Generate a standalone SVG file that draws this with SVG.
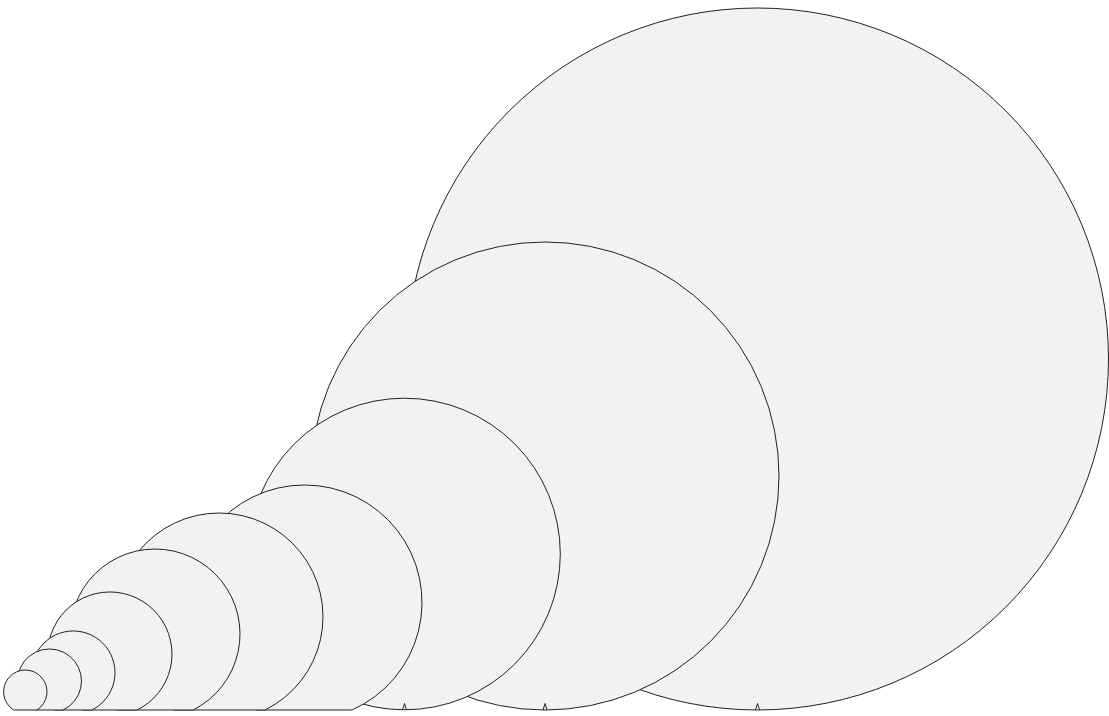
<svg xmlns="http://www.w3.org/2000/svg" width="1109" height="716" viewBox="0 0 1109 716">
<style>
.c{fill:#f2f2f2;stroke:#222;stroke-width:1}
.n{fill:none;stroke:#222;stroke-width:1;stroke-linejoin:miter}
</style>
<rect width="1109" height="716" fill="#fff"/>
<g id="circle1"><circle class="c" cx="757.5" cy="359" r="351"/><path class="n" d="M755.5,710 L757.5,703.5 L759.5,710"/></g>
<g id="circle2"><circle class="c" cx="545" cy="476" r="234"/><path class="n" d="M543,710 L545,703.5 L547,710"/></g>
<g id="circle3"><circle class="c" cx="404.5" cy="554" r="155.8"/><path class="n" d="M402.5,710 L404.5,703.5 L406.5,710"/></g>
<g id="circle4"><path class="c" d="M257.1,710 A117.5,117.5 0 1 1 351.9,710 Z"/></g>
<g id="circle5"><path class="c" d="M173.5,710 A103.8,103.8 0 1 1 264.9,710 Z"/></g>
<g id="circle6"><path class="c" d="M116.9,710 A85,85 0 1 1 193.1,710 Z"/></g>
<g id="circle7"><path class="c" d="M82.9,710 A62.1,62.1 0 1 1 136.9,710 Z"/></g>
<g id="circle8"><path class="c" d="M54.7,710 A41.7,41.7 0 1 1 91.9,710 Z"/></g>
<g id="circle9"><path class="c" d="M36,710 A32,32 0 1 1 63,710 Z"/></g>
<g id="circle10"><path class="c" d="M13.6,710 A21.7,21.7 0 1 1 37,710 Z"/></g>
<g id="connectors"></g>
</svg>
